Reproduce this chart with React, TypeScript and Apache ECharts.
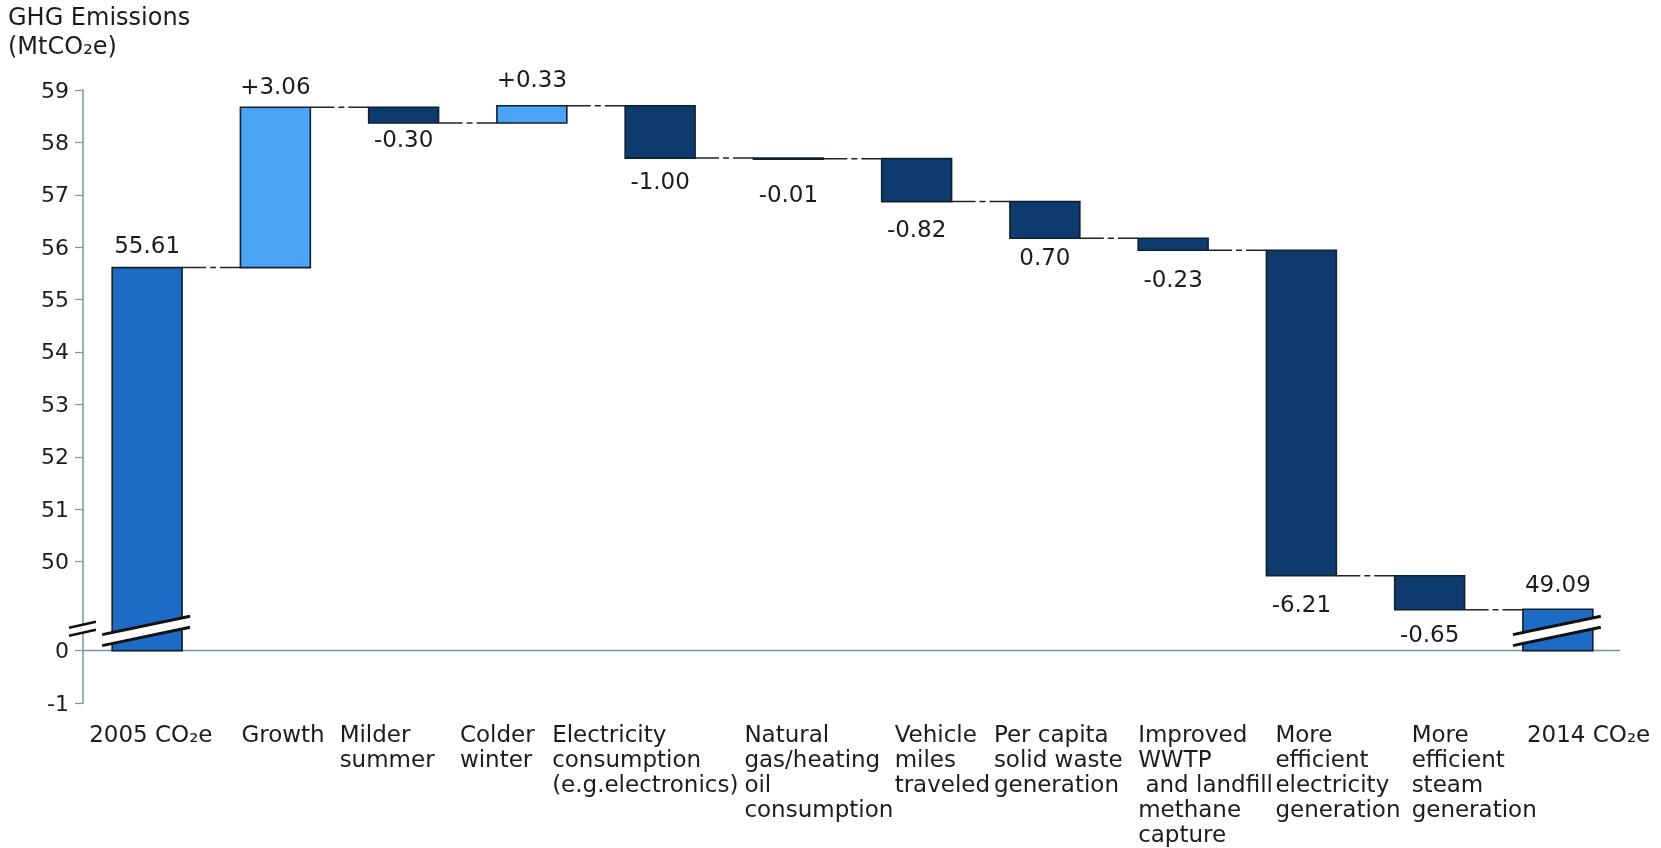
import React, { useEffect, useRef } from "react";
import * as echarts from "echarts";

// ---- data ----
const CATEGORIES = [
  "2005 CO₂e",
  "Growth",
  "Milder\nsummer",
  "Colder\nwinter",
  "Electricity\nconsumption\n(e.g.electronics)",
  "Natural\ngas/heating\noil\nconsumption",
  "Vehicle\nmiles\ntraveled",
  "Per capita\nsolid waste\ngeneration",
  "Improved\nWWTP\n and landfill\nmethane\ncapture",
  "More\nefficient\nelectricity\ngeneration",
  "More\nefficient\nsteam\ngeneration",
  "2014 CO₂e",
];
const START_VALUE = 55.61;
const CHANGES = [3.06, -0.3, 0.33, -1.0, -0.01, -0.82, -0.7, -0.23, -6.21, -0.65];
const END_VALUE = 49.09;
const VALUE_LABELS = ["55.61", "+3.06", "-0.30", "+0.33", "-1.00", "-0.01", "-0.82", "0.70", "-0.23", "-6.21", "-0.65", "49.09"];
const UPPER_TICKS = [50, 51, 52, 53, 54, 55, 56, 57, 58, 59];
const LOWER_TICKS = [-1, 0];

// ---- axis break mapping (display units) ----
const LOW_SHIFT = 48.3; // real value 0 is drawn at display 48.3
const BREAK_THRESHOLD = 10;
const BREAK_LEVEL = 0.38; // real value (lower segment) where the break band sits
const Y_MIN = LOWER_TICKS[0] + LOW_SHIFT;
const Y_MAX = 59;
const disp = (v: number) => (v < BREAK_THRESHOLD ? v + LOW_SHIFT : v);
const undisp = (d: number) => (d < LOW_SHIFT + 0.8 ? d - LOW_SHIFT : d);

// ---- layout / style ----
const LABEL_GAPS = [23, 21, 16, 27, 23, 35, 27, 19, 29, 28, 24, 25];
const CAT_LABEL_SHIFT = [-58, -34, -64, -72, -108, -44, -22, -51, -35, -26, -18, -31];
const COLORS = ["#1E6BC6", "#4AA3F3", "#0D3B6E"];
const FONT = "DejaVu Sans";
const TEXT_COLOR = "#1c1c1c";
const AXIS_COLOR = "#8090a2";

function buildRows() {
  const rows: number[][] = [];
  rows.push([0, disp(0), disp(START_VALUE), 0, disp(START_VALUE)]);
  let level = START_VALUE;
  CHANGES.forEach((d, k) => {
    const next = level + d;
    rows.push([k + 1, disp(Math.min(level, next)), disp(Math.max(level, next)), d > 0 ? 1 : 2, disp(next)]);
    level = next;
  });
  rows.push([CATEGORIES.length - 1, disp(0), disp(END_VALUE), 0, disp(END_VALUE)]);
  return rows;
}

export default function App() {
  const ref = useRef<HTMLDivElement>(null);
  useEffect(() => {
    if (!ref.current) return;
    const chart = echarts.init(ref.current, undefined, { renderer: "svg" });
    const rows = buildRows();
    const n = CATEGORIES.length;

    const renderItem = (params: any, api: any) => {
      const i = api.value(0);
      const lo = api.value(1);
      const hi = api.value(2);
      const kind = api.value(3);
      const endLevel = api.value(4);
      const cs = params.coordSys;
      const bandW = api.size([1, 0])[0];
      const w = bandW * 0.545;
      const pTop = api.coord([i, hi]);
      const pBot = api.coord([i, lo]);
      const cx = pTop[0];
      const children: any[] = [];

      if (i === 0) {
        const y0 = api.coord([0, disp(0)])[1];
        children.push({
          type: "line",
          shape: { x1: cs.x, y1: y0, x2: cs.x + cs.width - 2, y2: y0 },
          style: { stroke: AXIS_COLOR, lineWidth: 1.5 },
        });
      }

      children.push({
        type: "rect",
        shape: { x: cx - w / 2, y: pTop[1], width: w, height: Math.max(pBot[1] - pTop[1], 1) },
        style: { fill: COLORS[kind], stroke: "#10202f", lineWidth: 1.6 },
      });

      if (kind === 0) {
        const yc = api.coord([i, disp(BREAK_LEVEL)])[1];
        const s = 0.21;
        const xl = cx - w / 2 - 10;
        const xr = cx + w / 2 + 8;
        const yAt = (x: number, off: number) => yc + off - s * (x - cx);
        children.push({
          type: "polygon",
          shape: { points: [[xl, yAt(xl, -5.5)], [xr, yAt(xr, -5.5)], [xr, yAt(xr, 5.5)], [xl, yAt(xl, 5.5)]] },
          style: { fill: "#ffffff" },
        });
        children.push({ type: "line", shape: { x1: xl, y1: yAt(xl, -5.5), x2: xr, y2: yAt(xr, -5.5) }, style: { stroke: "#111", lineWidth: 3 } });
        children.push({ type: "line", shape: { x1: xl, y1: yAt(xl, 5.5), x2: xr, y2: yAt(xr, 5.5) }, style: { stroke: "#111", lineWidth: 3 } });
        if (i === 0) {
          const ax = cs.x;
          const ya = yc - 2;
          const yA = (x: number, off: number) => ya + off - 0.22 * (x - ax);
          const al = ax - 14;
          const ar = ax + 13;
          children.push({
            type: "polygon",
            shape: { points: [[al, yA(al, -4)], [ar, yA(ar, -4)], [ar, yA(ar, 4)], [al, yA(al, 4)]] },
            style: { fill: "#ffffff" },
          });
          children.push({ type: "line", shape: { x1: al, y1: yA(al, -4), x2: ar, y2: yA(ar, -4) }, style: { stroke: "#111", lineWidth: 2.5 } });
          children.push({ type: "line", shape: { x1: al, y1: yA(al, 4), x2: ar, y2: yA(ar, 4) }, style: { stroke: "#111", lineWidth: 2.5 } });
        }
      }

      if (i < n - 1) {
        const ye = api.coord([i, endLevel])[1];
        children.push({
          type: "line",
          shape: { x1: cx + w / 2, y1: ye, x2: cx + bandW - w / 2, y2: ye },
          style: { stroke: "#222", lineWidth: 1.5, lineDash: [24, 4, 6, 4] },
        });
      }

      const gap = LABEL_GAPS[i];
      const ly = kind === 2 ? pBot[1] + gap : pTop[1] - gap;
      children.push({
        type: "text",
        x: cx,
        y: ly,
        style: {
          text: VALUE_LABELS[i],
          fill: TEXT_COLOR,
          fontSize: 23,
          fontFamily: FONT,
          align: "center",
          verticalAlign: "middle",
          textAlign: "center",
          textVerticalAlign: "middle",
        },
      });

      return { type: "group", children };
    };

    const tickValues = [...LOWER_TICKS.map(disp), ...UPPER_TICKS];

    chart.setOption({
      animation: false,
      title: {
        text: "GHG Emissions\n(MtCO₂e)",
        left: 8,
        top: 2,
        padding: 0,
        textStyle: { fontSize: 24, fontFamily: FONT, fontWeight: "normal", color: TEXT_COLOR, lineHeight: 29 },
      },
      grid: { left: 83, right: 39, top: 90, bottom: 145, containLabel: false },
      xAxis: {
        type: "category",
        data: CATEGORIES,
        axisLine: { show: false },
        axisTick: { show: false },
        axisLabel: { show: false },
        splitLine: { show: false },
      },
      yAxis: {
        type: "value",
        min: Y_MIN,
        max: Y_MAX,
        splitLine: { show: false },
        axisLine: { show: true, lineStyle: { color: AXIS_COLOR, width: 1.5 } },
        axisTick: { show: true, length: 8, lineStyle: { color: AXIS_COLOR, width: 1.2 }, customValues: tickValues },
        axisLabel: {
          customValues: tickValues,
          margin: 14,
          fontSize: 22,
          fontFamily: FONT,
          color: TEXT_COLOR,
          formatter: (v: number) => String(Math.round(undisp(v))),
        },
      },
      series: [
        {
          type: "custom",
          clip: false,
          renderItem,
          encode: { x: 0, y: [1, 2] },
          data: rows,
        },
      ],
    });

    const yBase = chart.convertToPixel({ yAxisIndex: 0 }, Y_MIN) as number;
    const graphics = CATEGORIES.map((c, i) => {
      const cx = chart.convertToPixel({ xAxisIndex: 0 }, i) as number;
      return {
        type: "text",
        x: cx + CAT_LABEL_SHIFT[i],
        y: yBase + 18,
        style: {
          text: c,
          fill: TEXT_COLOR,
          fontSize: 23,
          fontFamily: FONT,
          lineHeight: 25,
          align: "left",
          verticalAlign: "top",
          textAlign: "left",
          textVerticalAlign: "top",
        },
      };
    });
    chart.setOption({ graphic: graphics });

    return () => chart.dispose();
  }, []);

  return <div ref={ref} style={{ position: "fixed", left: 0, top: 0, width: 1661, height: 848 }} />;
}
